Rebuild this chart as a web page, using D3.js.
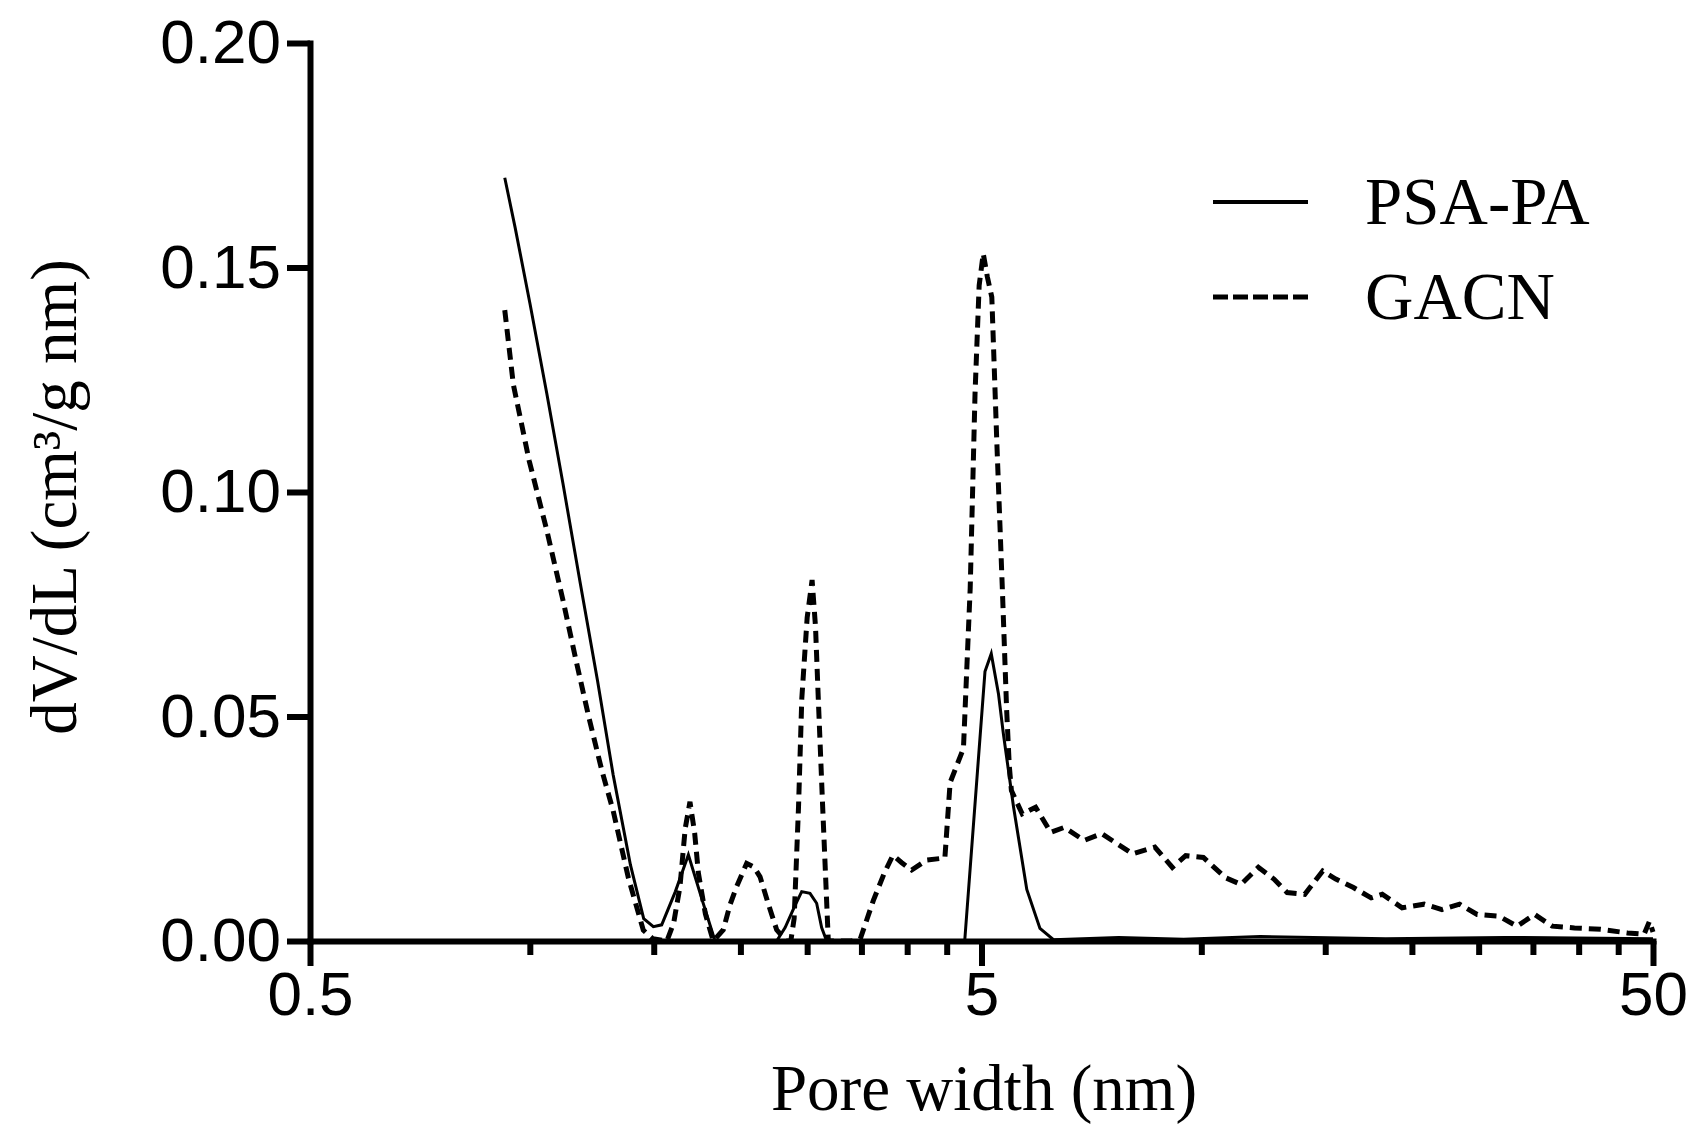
<!DOCTYPE html>
<html lang="en">
<head>
  <meta charset="UTF-8">
  <title>Pore size distribution</title>
  <script src="https://d3js.org/d3.v7.min.js"></script>
  <style>
    body {
      margin: 0;
      background: #fff;
    }
    .tick text {
      font-family: "Liberation Sans", Arial, sans-serif;
      font-size: 62px;
      fill: #000;
    }
    .label {
      font-family: "Liberation Serif", "Times New Roman", serif;
      font-size: 65px;
      fill: #000;
    }
  </style>
</head>
<body>
  <svg width="1693" height="1138"></svg>

  <script>
    // PSA-PA (solid line)
    const psaWidth = [0.975, 1.01, 1.063, 1.126, 1.19, 1.262, 1.34, 1.414, 1.50, 1.57, 1.623, 1.67,
      1.75, 1.83, 1.92, 2.005, 2.477, 2.55, 2.63, 2.699, 2.777, 2.841, 2.89, 2.94, 4.72, 5.06, 5.17,
      5.30, 5.39, 5.58, 5.84, 6.11, 6.4, 8, 10, 13, 20, 30, 50];
    const psaDv = [0.170, 0.159, 0.142, 0.122, 0.102, 0.080, 0.058, 0.037, 0.017, 0.005, 0.0032, 0.0036,
      0.011, 0.0192, 0.009, 0.0, 0.0, 0.003, 0.0075, 0.011, 0.0106, 0.0084, 0.003, 0.0, 0.0, 0.060, 0.064,
      0.055, 0.0461, 0.0299, 0.0115, 0.0028, 0.0003, 0.0008, 0.0004, 0.001, 0.0005, 0.0008, 0.0005];

    // GACN (dashed line)
    const gacnWidth = [0.975, 1.004, 1.06, 1.126, 1.19, 1.247, 1.30, 1.36, 1.414, 1.49, 1.568, 1.62,
      1.70, 1.74, 1.778, 1.81, 1.84, 1.87, 1.894, 1.94, 1.993, 2.063, 2.11, 2.159, 2.235, 2.29, 2.34,
      2.41, 2.477, 2.56, 2.60, 2.63, 2.67, 2.70, 2.75, 2.797, 2.83, 2.857, 2.90, 2.957, 3.20, 3.30,
      3.45, 3.58, 3.69, 3.80, 3.935, 4.14, 4.41, 4.49, 4.70, 4.81, 4.89, 4.96, 5.03, 5.10, 5.18, 5.27,
      5.37, 5.45, 5.50, 5.54, 5.75, 6.02, 6.34, 6.64, 7.11, 7.55, 8.40, 9.06, 9.62, 10.07, 10.70,
      11.54, 12.17, 12.92, 13.63, 14.26, 15.15, 16.11, 16.85, 17.9, 19.02, 19.76, 21.15, 22.82, 24.25,
      25.76, 27.36, 29.5, 31.37, 33.32, 35.4, 38.2, 41.8, 45.8, 48.5, 49.4, 50];
    const gacnDv = [0.1405, 0.124, 0.107, 0.0915, 0.076, 0.062, 0.050, 0.038, 0.029, 0.014, 0.0024, 0.0005,
      0.0, 0.004, 0.0121, 0.025, 0.031, 0.024, 0.0151, 0.006, 0.0, 0.0025, 0.008, 0.0121, 0.0173, 0.0165, 0.0143,
      0.008, 0.0025, 0.0, 0.0, 0.005, 0.03, 0.054, 0.072, 0.0804, 0.07, 0.054, 0.03, 0.0, 0.0, 0.0005,
      0.009, 0.015, 0.0191, 0.0175, 0.0158, 0.018, 0.0185, 0.0353, 0.0429, 0.0786, 0.1218, 0.146, 0.1531, 0.148, 0.1434, 0.111,
      0.0786, 0.0515, 0.039, 0.0335, 0.0283, 0.0298, 0.0242, 0.0253, 0.0224, 0.0239, 0.0194, 0.0209, 0.0164, 0.019, 0.0186,
      0.0141, 0.0126, 0.0164, 0.0138, 0.0108, 0.0104, 0.0156, 0.0138, 0.0119, 0.0096, 0.0104, 0.0074, 0.0082, 0.007,
      0.0082, 0.0059, 0.0055, 0.0033, 0.0059, 0.0033, 0.0029, 0.0026, 0.0018, 0.0015, 0.0044, 0.002];

    const yTicks = [0, 0.05, 0.10, 0.15, 0.20];
    const xMajorTicks = [0.5, 5, 50];
    const xMinorTicks = [1.0625, 1.625, 2.1875, 2.75, 3.3125, 3.875, 4.4375,
      10.625, 16.25, 21.875, 27.5, 33.125, 38.75, 44.375];

    const seriesNames = ["PSA-PA", "GACN"];

    const svg = d3.select("svg");

    const x = d3.scaleLog()
      .domain([0.5, 50])
      .range([310, 1653]);

    const y = d3.scaleLinear()
      .domain([0, 0.2])
      .range([941, 43]);

    const line = d3.line()
      .x(d => x(d[0]))
      .y(d => y(d[1]));

    const psa = psaWidth.map((w, i) => [w, psaDv[i]]);
    const gacn = gacnWidth.map((w, i) => [w, gacnDv[i]]);

    // Curves
    svg.append("path")
      .datum(gacn)
      .attr("d", line)
      .attr("fill", "none")
      .attr("stroke", "#000")
      .attr("stroke-width", 5)
      .attr("stroke-dasharray", "12,7");

    svg.append("path")
      .datum(psa)
      .attr("d", line)
      .attr("fill", "none")
      .attr("stroke", "#000")
      .attr("stroke-width", 3);

    // Y axis
    svg.append("g")
      .attr("transform", "translate(310,0)")
      .call(d3.axisLeft(y)
        .tickValues(yTicks)
        .tickSize(23)
        .tickSizeOuter(0)
        .tickPadding(6)
        .tickFormat(d3.format(".2f")));

    // X axis, minor ticks first
    const xMinor = svg.append("g")
      .attr("transform", "translate(0,941)")
      .call(d3.axisBottom(x)
        .tickValues(xMinorTicks)
        .tickSize(14)
        .tickFormat(""));
    xMinor.select(".domain").remove();

    const xAxis = svg.append("g")
      .attr("transform", "translate(0,941)")
      .call(d3.axisBottom(x)
        .tickValues(xMajorTicks)
        .tickSize(25)
        .tickSizeOuter(0)
        .tickPadding(4)
        .tickFormat(d => d));

    svg.selectAll(".domain")
      .attr("stroke", "#000")
      .attr("stroke-width", 6)
      .attr("stroke-linecap", "square");
    svg.selectAll(".tick line")
      .attr("stroke", "#000")
      .attr("stroke-width", 6);
    xAxis.selectAll(".tick text").attr("dy", "0.72em");

    // Axis titles
    svg.append("text")
      .attr("class", "label")
      .attr("x", 984)
      .attr("y", 1110)
      .attr("text-anchor", "middle")
      .text("Pore width (nm)");

    svg.append("text")
      .attr("class", "label")
      .attr("transform", "translate(76,497) rotate(-90)")
      .attr("text-anchor", "middle")
      .text("dV/dL (cm³/g nm)");

    // Legend
    const legend = svg.append("g");
    seriesNames.forEach((name, i) => {
      const yy = 202 + i * 95;
      legend.append("line")
        .attr("x1", 1213).attr("x2", 1308)
        .attr("y1", yy).attr("y2", yy)
        .attr("stroke", "#000")
        .attr("stroke-width", i === 0 ? 4 : 5)
        .attr("stroke-dasharray", i === 0 ? null : "15,5");
      legend.append("text")
        .attr("class", "label")
        .attr("x", 1365)
        .attr("y", yy + 22)
        .style("font-size", "67px")
        .text(name);
    });
  </script>
</body>
</html>
